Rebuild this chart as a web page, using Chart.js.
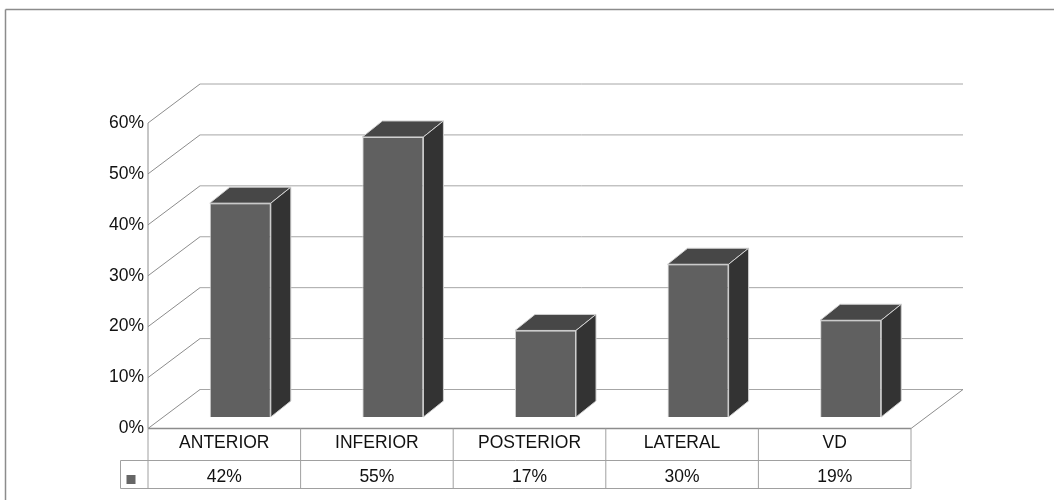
<!DOCTYPE html>
<html>
<head>
<meta charset="utf-8">
<style>
  html, body { margin: 0; padding: 0; background: #fff; }
  #wrap { width: 1054px; height: 500px; }
</style>
<script src="https://cdn.jsdelivr.net/npm/chart.js@4"></script>
</head>
<body>
<div id="wrap"><canvas id="chart" width="1054" height="500"></canvas></div>
<script>
const categories = ['ANTERIOR', 'INFERIOR', 'POSTERIOR', 'LATERAL', 'VD'];
const values = [42, 55, 17, 30, 19];
const yTicks = [0, 10, 20, 30, 40, 50, 60];

const FONT = '"Liberation Sans", Arial, sans-serif';
const FONT_SIZE = 17.5;
const GRID = '#a6a6a6';
const TABLE = '#a0a0a0';

// depth of the floor/back wall, and of one bar
const wallDx = 52, wallDy = -39;
const barShiftX = 16, barShiftY = -11.5;
const barDx = 20, barDy = -16;

function line(ctx, x1, y1, x2, y2, color, width) {
  ctx.beginPath();
  ctx.moveTo(x1, y1);
  ctx.lineTo(x2, y2);
  ctx.strokeStyle = color;
  ctx.lineWidth = width || 1;
  ctx.stroke();
}

function face(ctx, pts, fill) {
  ctx.beginPath();
  pts.forEach((p, i) => (i ? ctx.lineTo(p[0], p[1]) : ctx.moveTo(p[0], p[1])));
  ctx.closePath();
  ctx.fillStyle = fill;
  ctx.fill();
  ctx.strokeStyle = '#d0d0d0';
  ctx.lineWidth = 1;
  ctx.stroke();
}

const walls = {
  id: 'walls',
  beforeDatasetsDraw(chart) {
    const { ctx, chartArea: a, scales: { y } } = chart;
    ctx.save();
    yTicks.forEach((t) => {
      const py = y.getPixelForValue(t);
      line(ctx, a.left, py, a.left + wallDx, py + wallDy, '#8c8c8c');
      line(ctx, a.left + wallDx, py + wallDy, a.right + wallDx, py + wallDy, GRID);
    });
    const y0 = y.getPixelForValue(0);
    line(ctx, a.right, y0, a.right + wallDx, y0 + wallDy, '#8c8c8c');
    line(ctx, a.left, y.getPixelForValue(60), a.left, y0, '#8c8c8c');
    ctx.restore();
    // bars sit a little behind the front edge of the floor
    ctx.save();
    ctx.translate(barShiftX, barShiftY);
  },
  afterDatasetsDraw(chart) {
    const { ctx } = chart;
    chart.getDatasetMeta(0).data.forEach((bar) => {
      const l = bar.x - bar.width / 2, r = bar.x + bar.width / 2;
      face(ctx, [[l, bar.y], [r, bar.y], [r + barDx, bar.y + barDy], [l + barDx, bar.y + barDy]], '#474747');
      face(ctx, [[r, bar.y], [r, bar.base], [r + barDx, bar.base + barDy], [r + barDx, bar.y + barDy]], '#333333');
    });
    ctx.restore();
  }
};

// data table under the plot: category row comes from the x axis ticks
const dataTable = {
  id: 'dataTable',
  afterDraw(chart) {
    const { ctx, chartArea: a, scales: { x, y } } = chart;
    const top = y.getPixelForValue(0), mid = 460.5, bottom = 488.5, keyLeft = 120.5;
    ctx.save();
    line(ctx, a.left, top, a.right, top, '#8c8c8c', 1.5);
    line(ctx, keyLeft, mid, a.right, mid, TABLE);
    line(ctx, keyLeft, bottom, a.right, bottom, TABLE);
    line(ctx, keyLeft, mid, keyLeft, bottom, TABLE);
    const step = (a.right - a.left) / categories.length;
    for (let i = 0; i <= categories.length; i++) {
      const px = a.left + step * i;
      line(ctx, px, top, px, bottom, TABLE);
    }
    ctx.fillStyle = '#666666';
    ctx.fillRect(126.5, 475, 9, 9);
    ctx.fillStyle = '#111';
    ctx.font = FONT_SIZE + 'px ' + FONT;
    ctx.textAlign = 'center';
    ctx.textBaseline = 'middle';
    values.forEach((v, i) => ctx.fillText(v + '%', x.getPixelForValue(i), 477));
    // outer frame, open on the right and at the bottom
    line(ctx, 5.5, 9.5, 1054, 9.5, '#8c8c8c', 1.5);
    line(ctx, 5.5, 9.5, 5.5, 500, '#8c8c8c', 1.5);
    ctx.restore();
  }
};

new Chart(document.getElementById('chart'), {
  type: 'bar',
  data: {
    labels: categories,
    datasets: [
      {
        data: values,
        backgroundColor: '#606060',
        borderColor: '#d0d0d0',
        borderWidth: 1,
        categoryPercentage: 0.8,
        barPercentage: 0.5,
        clip: false
      }
    ]
  },
  options: {
    responsive: false,
    animation: false,
    layout: { padding: { left: 0, right: 143, top: 123, bottom: 0 } },
    plugins: { legend: { display: false }, tooltip: { enabled: false } },
    scales: {
      x: {
        position: 'bottom',
        grid: { display: false, tickLength: 0 },
        border: { display: false },
        ticks: { color: '#111', font: { family: FONT, size: FONT_SIZE }, padding: 4, maxRotation: 0 },
        afterFit(scale) { scale.height = 71.5; }
      },
      y: {
        min: 0,
        max: 60,
        afterBuildTicks(scale) { scale.ticks = yTicks.map((value) => ({ value })); },
        grid: { display: false, tickLength: 0 },
        border: { display: false },
        ticks: {
          color: '#111',
          font: { family: FONT, size: FONT_SIZE },
          padding: 4,
          callback: (v) => v + '%'
        },
        afterFit(scale) { scale.width = 148; }
      }
    }
  },
  plugins: [walls, dataTable]
});
</script>
</body>
</html>
